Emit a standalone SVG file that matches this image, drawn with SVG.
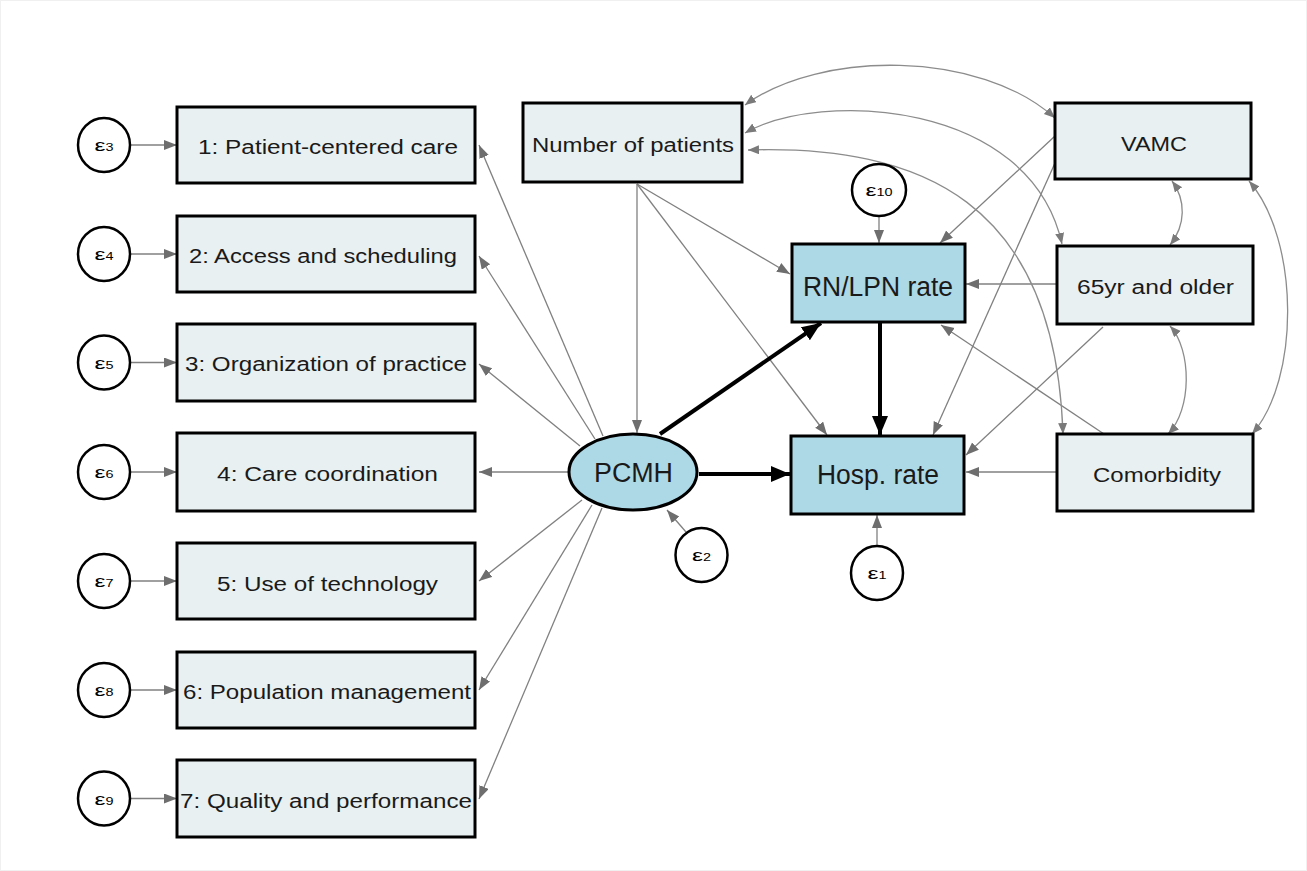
<svg xmlns="http://www.w3.org/2000/svg" width="1307" height="871" viewBox="0 0 1307 871">
  <style>
    .box { fill: #e8f0f2; stroke: #000; stroke-width: 3; }
    .endo { fill: #add8e6; stroke: #000; stroke-width: 3; }
    .err { fill: #fff; stroke: #000; stroke-width: 2.5; }
    .lbl { font-family: "Liberation Sans", Arial, sans-serif; font-size: 20px; fill: #1a1a1a; text-anchor: middle; }
    .big { font-size: 27px; }
    .eps { font-family: "Liberation Sans", Arial, sans-serif; font-size: 17px; fill: #000; text-anchor: middle; }
    .eps tspan { font-size: 10px; }
    .path { fill: none; stroke: #808080; stroke-width: 1.3; marker-end: url(#ah); }
    .cov { fill: none; stroke: #8c8c8c; stroke-width: 1.3; marker-start: url(#ahc); marker-end: url(#ahc); }
    .bold { fill: none; stroke: #000; stroke-width: 4; marker-end: url(#ahb); }
  </style>
  <defs>
    <marker id="ah" markerUnits="userSpaceOnUse" markerWidth="14" markerHeight="11" refX="13" refY="5" orient="auto">
      <path d="M0,0 L13,5 L0,10 z" fill="#6e6e6e"/>
    </marker>
    <marker id="ahc" markerUnits="userSpaceOnUse" markerWidth="12" markerHeight="10" refX="11" refY="4.5" orient="auto-start-reverse">
      <path d="M0,0 L11,4.5 L0,9 z" fill="#7a7a7a"/>
    </marker>
    <marker id="ahb" markerUnits="userSpaceOnUse" markerWidth="20" markerHeight="17" refX="19" refY="8" orient="auto">
      <path d="M0,0 L19,8 L0,16 z" fill="#000"/>
    </marker>
  </defs>

  <!-- canvas -->
  <rect x="0.5" y="0.5" width="1306" height="870" fill="#fff" stroke="#f0f0f0"/>

  <!-- connectors -->
  <g id="connectors">
    <!-- error terms to indicators -->
    <line class="path" x1="130" y1="145" x2="177" y2="145"/>
    <line class="path" x1="130" y1="254" x2="177" y2="254"/>
    <line class="path" x1="130" y1="362.5" x2="177" y2="362.5"/>
    <line class="path" x1="130" y1="472" x2="177" y2="472"/>
    <line class="path" x1="130" y1="581" x2="177" y2="581"/>
    <line class="path" x1="130" y1="690" x2="177" y2="690"/>
    <line class="path" x1="130" y1="798.5" x2="177" y2="798.5"/>

    <!-- PCMH loadings -->
    <line class="path" x1="603" y1="436" x2="479" y2="145"/>
    <line class="path" x1="595" y1="439" x2="479" y2="256"/>
    <line class="path" x1="580" y1="446" x2="479" y2="364"/>
    <line class="path" x1="568" y1="472" x2="479" y2="472"/>
    <line class="path" x1="582" y1="500" x2="479" y2="581"/>
    <line class="path" x1="592" y1="505" x2="479" y2="690"/>
    <line class="path" x1="602" y1="508" x2="479" y2="799"/>

    <!-- number of patients -->
    <line class="path" x1="637" y1="184" x2="637" y2="433"/>
    <line class="path" x1="637" y1="184" x2="790" y2="274"/>
    <line class="path" x1="637" y1="184" x2="827" y2="435"/>

    <!-- VAMC -->
    <line class="path" x1="1055" y1="136" x2="940" y2="243"/>
    <line class="path" x1="1055" y1="163" x2="933" y2="435"/>

    <!-- 65yr and older -->
    <line class="path" x1="1057" y1="284" x2="966" y2="284"/>
    <line class="path" x1="1103" y1="327" x2="966" y2="455"/>

    <!-- Comorbidity -->
    <line class="path" x1="1057" y1="472" x2="966" y2="472"/>
    <line class="path" x1="1104" y1="434" x2="941" y2="325"/>

    <!-- structural errors -->
    <line class="path" x1="879" y1="217" x2="879" y2="243"/>
    <line class="path" x1="877" y1="546" x2="877" y2="515"/>
    <line class="path" x1="686" y1="532" x2="667" y2="510"/>

    <!-- main paths -->
    <line class="bold" x1="660" y1="434" x2="821" y2="323"/>
    <line class="bold" x1="699" y1="474" x2="790" y2="474"/>
    <line class="bold" x1="880" y1="323" x2="880" y2="435"/>

    <!-- covariances -->
    <path class="cov" d="M745,105 C820,50 980,50 1055,118"/>
    <path class="cov" d="M745,133 C820,90 1030,100 1062,244"/>
    <path class="cov" d="M748,150 C920,145 1055,200 1063,434"/>
    <path class="cov" d="M1172,181 C1186,200 1186,225 1170,245"/>
    <path class="cov" d="M1170,326 C1192,350 1192,410 1168,434"/>
    <path class="cov" d="M1249,181 C1300,240 1300,380 1252,434"/>
  </g>

  <!-- indicators -->
  <g id="ind1"><rect class="box" x="177" y="107" width="298" height="76"/><text class="lbl" x="328" y="154" textLength="260" lengthAdjust="spacingAndGlyphs">1: Patient-centered care</text></g>
  <g id="ind2"><rect class="box" x="177" y="216" width="298" height="76"/><text class="lbl" x="323" y="263" textLength="268" lengthAdjust="spacingAndGlyphs">2: Access and scheduling</text></g>
  <g id="ind3"><rect class="box" x="177" y="324" width="298" height="77"/><text class="lbl" x="326" y="371" textLength="282" lengthAdjust="spacingAndGlyphs">3: Organization of practice</text></g>
  <g id="ind4"><rect class="box" x="177" y="433" width="298" height="78"/><text class="lbl" x="327.5" y="481" textLength="221" lengthAdjust="spacingAndGlyphs">4: Care coordination</text></g>
  <g id="ind5"><rect class="box" x="177" y="543" width="298" height="76"/><text class="lbl" x="327.5" y="591" textLength="221" lengthAdjust="spacingAndGlyphs">5: Use of technology</text></g>
  <g id="ind6"><rect class="box" x="177" y="652" width="298" height="76"/><text class="lbl" x="327" y="699" textLength="288" lengthAdjust="spacingAndGlyphs">6: Population management</text></g>
  <g id="ind7"><rect class="box" x="177" y="760" width="298" height="77"/><text class="lbl" x="326" y="808" textLength="292" lengthAdjust="spacingAndGlyphs">7: Quality and performance</text></g>

  <!-- indicator errors -->
  <g id="e3"><ellipse class="err" cx="104" cy="145" rx="26" ry="27"/><text class="eps" x="104" y="151" textLength="19" lengthAdjust="spacingAndGlyphs">ε<tspan>3</tspan></text></g>
  <g id="e4"><ellipse class="err" cx="104" cy="254" rx="26" ry="27"/><text class="eps" x="104" y="260" textLength="19" lengthAdjust="spacingAndGlyphs">ε<tspan>4</tspan></text></g>
  <g id="e5"><ellipse class="err" cx="104" cy="362.5" rx="26" ry="27"/><text class="eps" x="104" y="368.5" textLength="19" lengthAdjust="spacingAndGlyphs">ε<tspan>5</tspan></text></g>
  <g id="e6"><ellipse class="err" cx="104" cy="472" rx="26" ry="27"/><text class="eps" x="104" y="478" textLength="19" lengthAdjust="spacingAndGlyphs">ε<tspan>6</tspan></text></g>
  <g id="e7"><ellipse class="err" cx="104" cy="581" rx="26" ry="27"/><text class="eps" x="104" y="587" textLength="19" lengthAdjust="spacingAndGlyphs">ε<tspan>7</tspan></text></g>
  <g id="e8"><ellipse class="err" cx="104" cy="690" rx="26" ry="27"/><text class="eps" x="104" y="696" textLength="19" lengthAdjust="spacingAndGlyphs">ε<tspan>8</tspan></text></g>
  <g id="e9"><ellipse class="err" cx="104" cy="798.5" rx="26" ry="27"/><text class="eps" x="104" y="804.5" textLength="19" lengthAdjust="spacingAndGlyphs">ε<tspan>9</tspan></text></g>

  <!-- latent construct -->
  <g id="pcmh"><ellipse class="endo" cx="633" cy="472" rx="64" ry="38"/><text class="lbl big" x="633.5" y="482" textLength="79" lengthAdjust="spacingAndGlyphs">PCMH</text></g>
  <g id="e2"><ellipse class="err" cx="701.5" cy="555" rx="26" ry="27"/><text class="eps" x="701.5" y="561" textLength="19" lengthAdjust="spacingAndGlyphs">ε<tspan>2</tspan></text></g>

  <!-- outcomes -->
  <g id="rnlpn"><rect class="endo" x="792" y="244" width="173" height="78"/><text class="lbl big" x="878" y="296" textLength="150" lengthAdjust="spacingAndGlyphs">RN/LPN rate</text></g>
  <g id="e10"><ellipse class="err" cx="879" cy="190" rx="27" ry="26"/><text class="eps" x="879" y="196" textLength="27" lengthAdjust="spacingAndGlyphs">ε<tspan>10</tspan></text></g>
  <g id="hosp"><rect class="endo" x="791" y="436" width="173" height="78"/><text class="lbl big" x="878" y="484" textLength="122" lengthAdjust="spacingAndGlyphs">Hosp. rate</text></g>
  <g id="e1"><ellipse class="err" cx="877" cy="573" rx="26" ry="27"/><text class="eps" x="877" y="579" textLength="19" lengthAdjust="spacingAndGlyphs">ε<tspan>1</tspan></text></g>

  <!-- covariates -->
  <g id="npat"><rect class="box" x="523" y="103" width="219" height="79"/><text class="lbl" x="633" y="152" textLength="202" lengthAdjust="spacingAndGlyphs">Number of patients</text></g>
  <g id="vamc"><rect class="box" x="1055" y="103" width="196" height="76"/><text class="lbl" x="1154" y="151" textLength="66" lengthAdjust="spacingAndGlyphs">VAMC</text></g>
  <g id="age65"><rect class="box" x="1057" y="246" width="196" height="78"/><text class="lbl" x="1155.5" y="294" textLength="157" lengthAdjust="spacingAndGlyphs">65yr and older</text></g>
  <g id="comorb"><rect class="box" x="1057" y="434" width="196" height="77"/><text class="lbl" x="1157" y="482" textLength="128" lengthAdjust="spacingAndGlyphs">Comorbidity</text></g>
</svg>
